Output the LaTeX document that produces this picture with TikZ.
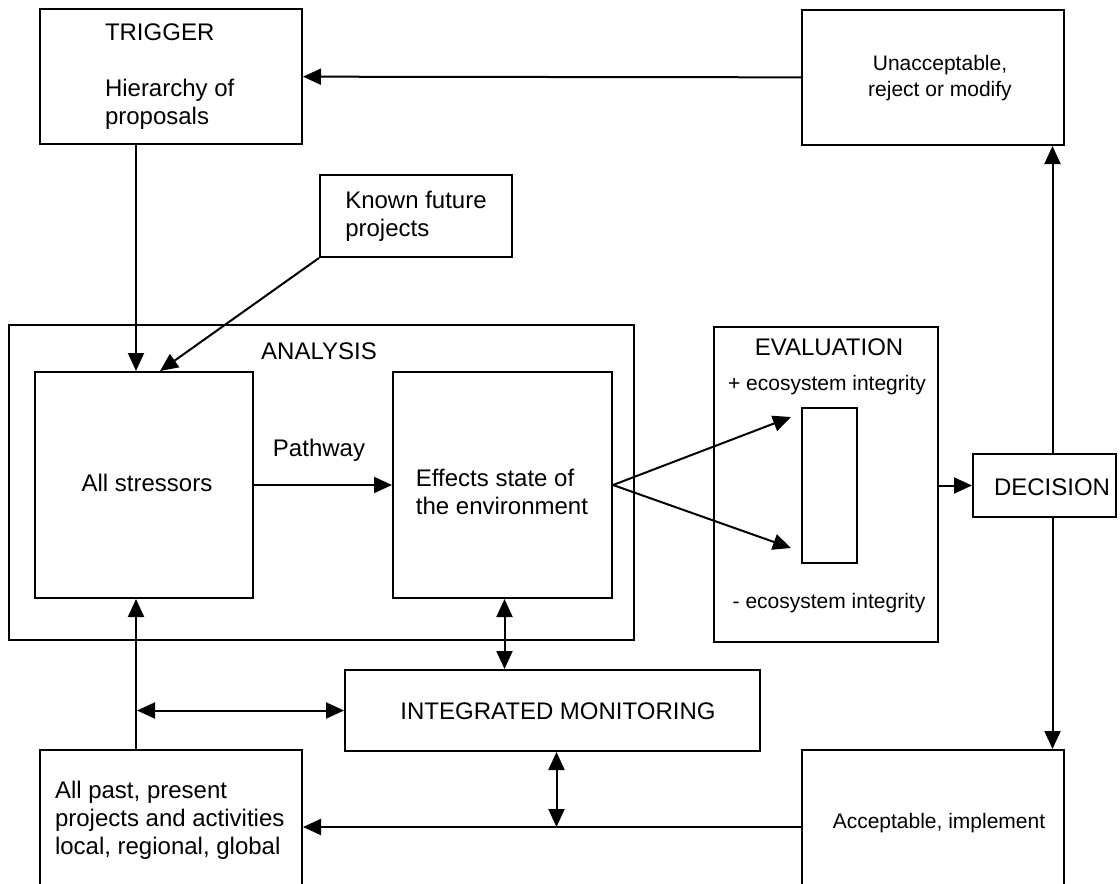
\documentclass[tikz,border=0pt]{standalone}
\usepackage{fontspec}
\setmainfont{Liberation Sans}
\usetikzlibrary{arrows.meta}

\begin{document}
\begin{tikzpicture}[x=1pt, y=-1pt, line width=2pt,
		>={Triangle[length=18pt,width=16pt]},
		box/.style={draw, rectangle, inner sep=0pt},
		txt/.style={font=\fontsize{24}{28}\selectfont, inner sep=0pt, align=left},
		smalltxt/.style={font=\fontsize{21}{26}\selectfont, inner sep=0pt, align=center}]
			\useasboundingbox (0,0) rectangle (1120,884);
			% boxes
			\node[box, minimum width=262, minimum height=135] (trig) at (171,76.5) {};
			\node[box, minimum width=262, minimum height=135] (unacc) at (933,77.5) {};
			\node[box, txt, minimum width=192, minimum height=82] (known) at (416,216) {Known future\\projects};
			\node[box, minimum width=625, minimum height=315] (analysis) at (321.5,482.5) {};
			\node[box, minimum width=218, minimum height=226] (stress) at (144,485) {};
			\node[box, minimum width=219, minimum height=226] (effects) at (502.5,485) {};
			\node[box, minimum width=224, minimum height=315] (eval) at (826,484.5) {};
			\node[box, minimum width=55, minimum height=155] (scale) at (829.5,485.5) {};
			\node[box, minimum width=143, minimum height=63] (dec) at (1044.5,485.5) {};
			\node[box, minimum width=415, minimum height=81] (im) at (552.5,710.5) {};
			\node[box, minimum width=262, minimum height=154] (past) at (171,827) {};
			\node[box, minimum width=262, minimum height=154] (accept) at (933,827) {};
			% texts
			\node[txt, anchor=west] (trigtitle) at (104,32) {TRIGGER};
			\node[txt, anchor=west] (trighier) at (104,104) {Hierarchy of\\proposals};
			\node[smalltxt] (unacclbl) at (940,78) {Unacceptable,\\reject or modify};
			\node[txt] (analysislbl) at (319,351) {ANALYSIS};
			\node[txt] (stresslbl) at (147,483) {All stressors};
			\node[txt] (pathlbl) at (319,450) {Pathway};
			\node[txt] (effectslbl) at (502,492) {Effects state of\\the environment};
			\node[txt] (evallbl) at (829,347) {EVALUATION};
			\node[smalltxt] (pluslbl) at (827,385) {+ ecosystem integrity};
			\node[smalltxt] (minuslbl) at (829,603) {- ecosystem integrity};
			\node[txt] (declbl) at (1052,487) {DECISION};
			\node[txt] (imlbl) at (558,711) {INTEGRATED MONITORING};
			\node[txt, anchor=west] (pastlbl) at (54,820) {All past, present\\projects and activities\\local, regional, global};
			\node[smalltxt] (acceptlbl) at (939,823) {Acceptable, implement};
			\coordinate (lx) at (136,0);
			% connectors
			\path[->]
			(unacc) edge (trig)
			(trig.south -| lx) edge (stress.north -| lx)
			(known.south west) edge ([xshift=16pt]stress.north)
			(stress) edge (effects)
			(effects.east) edge ([xshift=-10pt,yshift=-10pt]scale.north west)
					edge ([xshift=-10pt,yshift=16pt]scale.south west)
			(eval.east |- dec.west) edge (dec.west)
			([xshift=8pt]dec.north) edge ([xshift=8pt]dec.north |- unacc.south)
			([xshift=8pt]dec.south) edge ([xshift=8pt]dec.south |- accept.north)
			(past.north -| lx) edge (stress.south -| lx)
			(accept.west) edge (past.east);
			\path[<->]
			([xshift=2pt]effects.south) edge ([xshift=2pt]effects.south |- im.north)
			([xshift=1pt]lx |- im.west) edge (im.west)
			([xshift=4pt]im.south) edge ([xshift=4pt]im.south |- accept.west);
		\end{tikzpicture}
\end{document}
